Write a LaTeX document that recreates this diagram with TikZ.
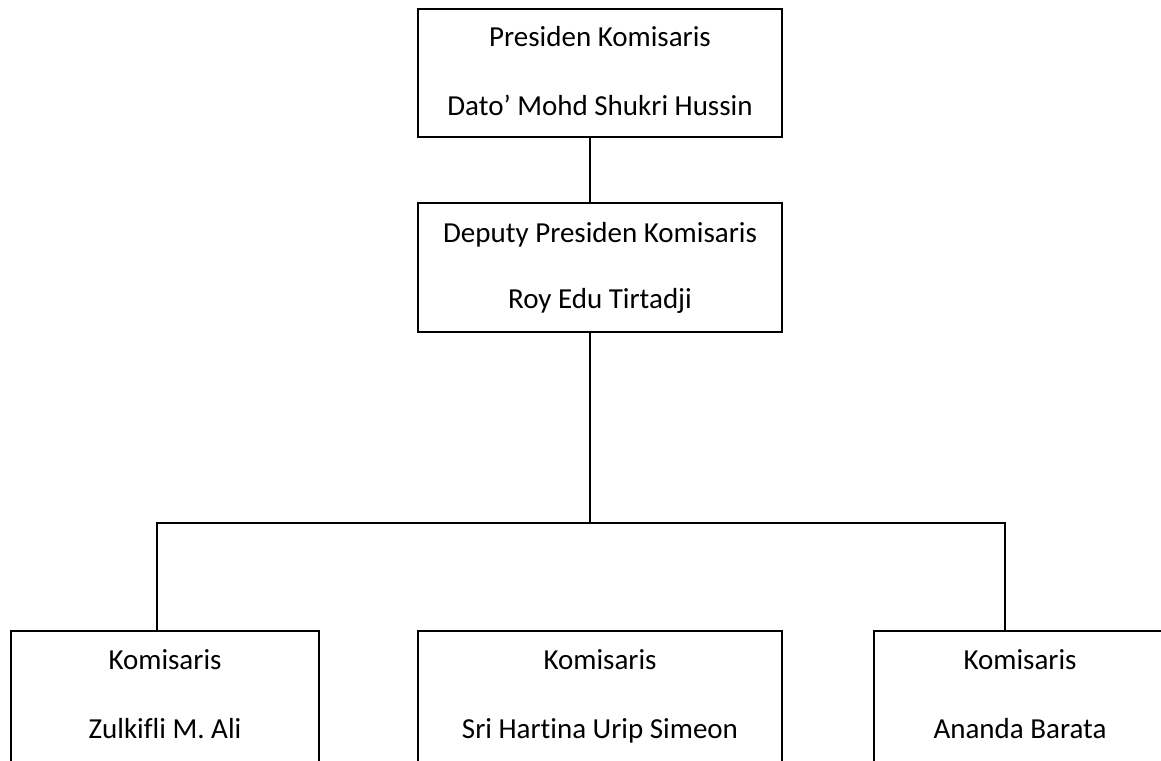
\documentclass[tikz,border=0pt]{standalone}
\usepackage{fontspec}
\setmainfont[Ligatures={NoCommon,NoRare}]{Carlito}
\begin{document}
\begin{tikzpicture}[x=1pt,y=-1pt,
  orgbox/.style={draw=black,line width=1.6pt,fill=none,outer sep=0pt,inner sep=0pt},
  lbl/.style={anchor=base,inner sep=0pt,font=\fontsize{29}{34}\selectfont},
  conn/.style={draw=black,line width=1.4pt}]
\path[use as bounding box] (0,0) rectangle (1161,760);
\clip (0,0) rectangle (1161,760);
% boxes
\node[orgbox,minimum width=364pt,minimum height=128pt] (pk) at (600,73) {};
\node[orgbox,minimum width=364pt,minimum height=129pt] (dp) at (600,267.5) {};
\node[orgbox,minimum width=308pt,minimum height=170pt] (zk) at (165,716) {};
\node[orgbox,minimum width=364pt,minimum height=170pt] (sh) at (600,716) {};
\node[orgbox,minimum width=292pt,minimum height=170pt] (ab) at (1020,716) {};
% labels
\node[lbl] (pk1) at (600,47) {Presiden Komisaris};
\node[lbl] (pk2) at (600,115) {Dato’ Mohd Shukri Hussin};
\node[lbl] (dp1) at (600,242) {Deputy Presiden Komisaris};
\node[lbl] (dp2) at (600,308) {Roy Edu Tirtadji};
\node[lbl] (zk1) at (165,669) {Komisaris};
\node[lbl] (zk2) at (165,738) {Zulkifli M. Ali};
\node[lbl] (sh1) at (600,669) {Komisaris};
\node[lbl] (sh2) at (600,738) {Sri Hartina Urip Simeon};
\node[lbl] (ab1) at (1020,669) {Komisaris};
\node[lbl] (ab2) at (1020,738) {Ananda Barata};
% connectors
\draw[conn] ([xshift=-10pt]pk.south) -- ([xshift=-10pt]dp.north);
\coordinate (j) at (590,523);
\draw[conn] ([xshift=-10pt]dp.south) -- (j);
\draw[conn] ([xshift=-8pt]zk.north) -- ++(0,-108) -| ([xshift=-15pt]ab.north);
\end{tikzpicture}
\end{document}
